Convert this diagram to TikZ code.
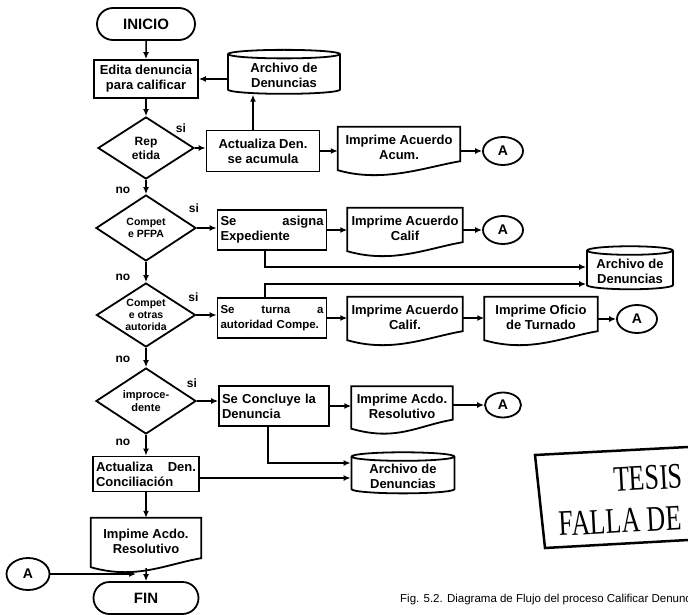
\documentclass[tikz,border=0pt]{standalone}
\usepackage{fontspec}
\setmainfont{Liberation Sans}
\newfontfamily\stampfont{Liberation Serif}
\usetikzlibrary{arrows.meta, positioning, shapes.geometric, shapes.misc}

% outline of a printed document (wavy bottom)
\newcommand{\docshape}[1]{%
  \draw[box] (#1.north west) -- (#1.north east) -- ([yshift=6pt]#1.south east)
    .. controls ([xshift=-35pt,yshift=0pt]#1.south east) and ([xshift=45pt,yshift=-16pt]#1.south west)
    .. ([yshift=-3pt]#1.south west) -- cycle;}

\begin{document}
\begin{tikzpicture}[x=1pt, y=-1pt,
  every node/.style={font=\fontsize{13}{15}\selectfont\bfseries},
  box/.style={draw, line width=1.8pt, inner sep=3pt, align=center},
  proc/.style={box, rectangle},
  term/.style={box, rounded rectangle, font=\fontsize{15}{17}\selectfont\bfseries},
  cond/.style={box, diamond, aspect=1.5, inner sep=0pt},
  doc/.style={rectangle, inner sep=3pt, align=center},
  store/.style={box, cylinder, shape border rotate=90, aspect=0.12, inner sep=2pt},
  conn/.style={box, ellipse, inner sep=0pt, minimum width=40pt, minimum height=28pt, font=\fontsize{14}{16}\selectfont\bfseries},
  wire/.style={line width=1.5pt},
  arrow/.style={wire, -{Latex[length=7pt,width=6pt]}},
  lbl/.style={font=\fontsize{12}{14}\selectfont\bfseries, inner sep=1pt},
  stamp/.style={font=\stampfont\fontsize{36}{38}\selectfont, inner sep=0pt, rotate=3}
]
\useasboundingbox (0,0) rectangle (688,615);
\clip (0,0) rectangle (688,615);

% --- Main column ---
\node[term, minimum width=104pt, minimum height=32pt] (inicio) at (146,24) {INICIO};
\node[proc, minimum width=104pt, minimum height=38pt] (edita) at (146,79) {Edita denuncia\\para calificar};
\node[cond, minimum width=96pt, minimum height=62pt, font=\fontsize{12}{14}\selectfont\bfseries] (rep) at (146,148) {Rep\\etida};
\node[cond, minimum width=100pt, minimum height=66pt, font=\fontsize{10.5}{12}\selectfont\bfseries] (compet) at (146,228) {Compet\\e PFPA};
\node[cond, minimum width=99pt, minimum height=64pt, font=\fontsize{10.5}{12}\selectfont\bfseries] (otras) at (146,315) {Compet\\e otras\\autorida};
\node[cond, minimum width=100pt, minimum height=66pt, font=\fontsize{11}{13}\selectfont\bfseries] (improc) at (146,401) {improce-\\dente};
\node[proc, text width=100pt, minimum height=35pt, align=left] (concil) at (146,474) {Actualiza\hfill Den.\\Conciliación};
\node[doc, minimum width=110pt, minimum height=46pt] (doc5) at (146,541) {Impime Acdo.\\Resolutivo};
\docshape{doc5}
\node[term, minimum width=111pt, minimum height=32pt] (fin) at (146,598) {FIN};
\node[conn, minimum width=43pt, minimum height=32pt] (aleft) at (28,574) {A};

% --- Row 1: repetida ---
\node[store, minimum width=112pt, minimum height=44pt] (arch1) at (284,75) {Archivo de\\Denuncias};
\node[proc, minimum width=113pt, minimum height=41pt] (acum) at (263,151) {Actualiza Den.\\se acumula};
\node[doc, minimum width=122pt, minimum height=40pt] (doc1) at (399,147) {Imprime Acuerdo\\Acum.};
\docshape{doc1}
\node[conn] (a1) at (503,151) {A};

% --- Row 2: competencia PFPA ---
\node[proc, text width=103pt, minimum height=40pt, align=left] (asigna) at (272,230) {Se\hfill asigna\\Expediente};
\node[doc, minimum width=115pt, minimum height=40pt] (doc2) at (405,228) {Imprime Acuerdo\\Calif};
\docshape{doc2}
\node[conn] (a2) at (503,230) {A};
\node[store, minimum width=86pt, minimum height=43pt] (arch2) at (630,271) {Archivo de\\Denuncias};

% --- Row 3: otras autoridades ---
\node[proc, text width=103pt, minimum height=40pt, align=left, font=\fontsize{11.5}{15}\selectfont\bfseries] (turna) at (272,318) {Se\hfill turna\hfill a\\autoridad Compe.};
\node[doc, minimum width=115pt, minimum height=40pt] (doc3) at (405,317) {Imprime Acuerdo\\Calif.};
\docshape{doc3}
\node[doc, minimum width=113pt, minimum height=40pt] (oficio) at (541,317) {Imprime Oficio\\de Turnado};
\docshape{oficio}
\node[conn] (a3) at (637,319) {A};

% --- Row 4: improcedente ---
\node[proc, text width=104pt, minimum height=40pt, align=left] (concluye) at (274,406) {Se Concluye la\\Denuncia};
\node[doc, minimum width=101pt, minimum height=39pt] (doc4) at (402,406) {Imprime Acdo.\\Resolutivo};
\docshape{doc4}
\node[conn, minimum width=36pt, minimum height=25pt] (a4) at (503,405) {A};
\node[store, minimum width=103pt, minimum height=38pt] (arch3) at (403,476) {Archivo de\\Denuncias};

% --- Arrows, main column ---
\draw[arrow] (inicio) -- (edita);
\draw[arrow] (edita) -- (rep);
\draw[arrow] (rep) -- node[lbl, left=14pt, pos=0.75] (no1) {no} (compet);
\draw[arrow] (compet) -- node[lbl, left=14pt, pos=0.75] (no2) {no} (otras);
\draw[arrow] (otras) -- node[lbl, left=14pt, pos=0.6] (no3) {no} (improc);
\draw[arrow] (improc) -- node[lbl, left=14pt, pos=0.35] (no4) {no} (concil);
\draw[arrow] (concil) -- (doc5);
\draw[arrow] ([yshift=-4pt]doc5.south) -- (fin);
\coordinate (join) at ([xshift=-10pt]fin.north |- aleft.east);
\draw[arrow] (aleft) -- (join);

% --- Arrows, branches ---
\draw[arrow] (arch1.west |- edita.east) -- (edita.east);
\draw[arrow] (rep.east) -- (rep.east -| acum.west);
\node[lbl] (si1) at ([shift={(-14pt,20pt)}]rep.east) {si};
\draw[arrow] ([xshift=-10pt]acum.north) -- ([xshift=-10pt]acum.north |- arch1.south);
\draw[arrow] (acum.east) -- (acum.east -| doc1.west);
\draw[arrow] (doc1.east |- a1.west) -- (a1.west);

\draw[arrow] (compet.east) -- (compet.east -| asigna.west);
\node[lbl] (si2) at ([shift={(-3pt,20pt)}]compet.east) {si};
\draw[arrow] (asigna.east) -- (asigna.east -| doc2.west);
\draw[arrow] (doc2.east |- a2.west) -- (a2.west);
\draw[arrow] ([xshift=-7pt]asigna.south) |- ([yshift=4pt]arch2.west);

\draw[arrow] (otras.east) -- (otras.east -| turna.west);
\node[lbl] (si3) at ([shift={(-3pt,18pt)}]otras.east) {si};
\draw[arrow] (turna.east) -- (turna.east -| doc3.west);
\draw[arrow] (doc3.east |- turna.east) -- (turna.east -| oficio.west);
\draw[arrow] (oficio.east |- a3.west) -- (a3.west);
\draw[arrow] ([xshift=-7pt]turna.north) |- ([yshift=-13pt]arch2.west);

\draw[arrow] (improc.east) -- (improc.east -| concluye.west);
\node[lbl] (si4) at ([shift={(-5pt,18pt)}]improc.east) {si};
\draw[arrow] (concluye.east) -- (concluye.east -| doc4.west);
\draw[arrow] (doc4.east |- a4.west) -- (a4.west);
\draw[arrow] ([xshift=-6pt]concluye.south) |- ([yshift=13pt]arch3.west);
\draw[arrow] ([yshift=-4pt]concil.east) -- ([yshift=-4pt]concil.east -| arch3.west);

% --- Stamp and caption ---
\draw[line width=2.5pt] (688,447) -- (535,455) -- (545,548) -- (688,540);
\node[stamp] (tesis) at (648,478) {\scalebox{0.72}[1]{TESIS}};
\node[stamp, anchor=west] (falla) at (559,524) {\scalebox{0.72}[1]{FALLA DE}};
\node[anchor=west, inner sep=0pt, font=\fontsize{11.5}{13}\selectfont] (caption) at (400,600) {Fig. 5.2. Diagrama de Flujo del proceso Calificar Denuncias};

\end{tikzpicture}
\end{document}
